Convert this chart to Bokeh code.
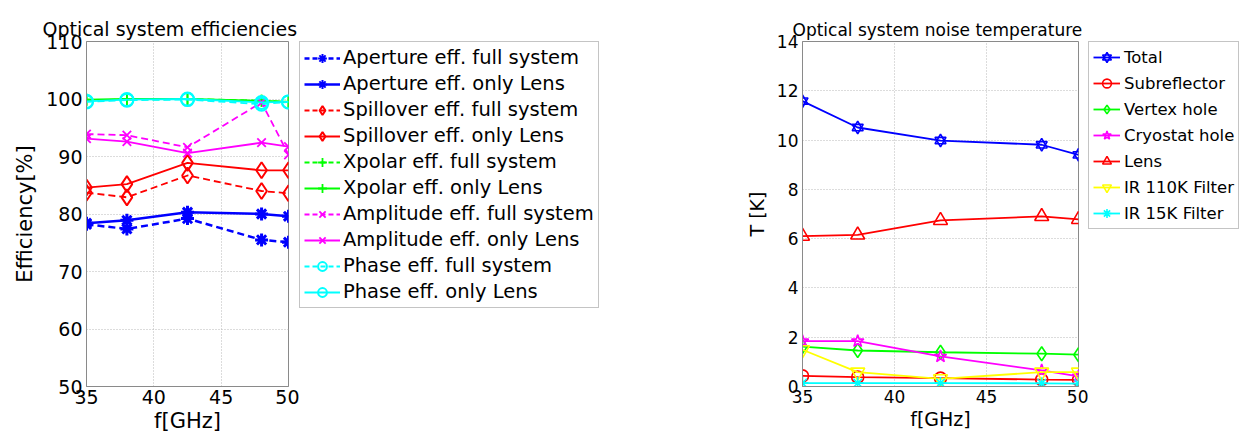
from bokeh.plotting import figure
from bokeh.layouts import row
from bokeh.models import Legend, LegendItem, Range1d, FixedTicker
from bokeh.embed import file_html
from bokeh.resources import INLINE

# ---------------- data ----------------
freq = [35, 38, 42.5, 48, 50]

aperture_full = [78.2, 77.4, 79.2, 75.5, 75.1]
aperture_lens = [78.4, 78.9, 80.3, 80.0, 79.6]
spill_full = [83.7, 82.9, 86.7, 84.0, 83.6]
spill_lens = [84.6, 85.2, 88.9, 87.6, 87.6]
xpol_full = [99.8, 99.9, 100.0, 99.7, 99.5]
xpol_lens = [99.9, 100.0, 100.0, 99.7, 99.5]
ampl_full = [93.9, 93.7, 91.6, 99.4, 90.3]
ampl_lens = [93.1, 92.6, 90.6, 92.4, 91.7]
phase_full = [99.5, 99.8, 99.9, 99.1, 99.5]
phase_lens = [99.6, 99.9, 100.0, 99.4, 99.5]

t_total = [11.58, 10.51, 9.98, 9.81, 9.40]
t_subrefl = [0.43, 0.38, 0.34, 0.28, 0.27]
t_vertex = [1.62, 1.46, 1.39, 1.33, 1.29]
t_cryo = [1.84, 1.84, 1.22, 0.65, 0.41]
t_lens = [6.10, 6.15, 6.74, 6.90, 6.78]
t_ir110 = [1.49, 0.58, 0.31, 0.58, 0.58]
t_ir15 = [0.14, 0.14, 0.14, 0.13, 0.12]

eff_ticks = [50, 60, 70, 80, 90, 100, 110]
temp_ticks = [0, 2, 4, 6, 8, 10, 12, 14]
f_ticks = [35, 40, 45, 50]

BLUE, RED, GREEN, MAG, CYAN, YEL = "#0000ff", "#ff0000", "#00ff00", "#ff00ff", "#00ffff", "#ffff00"
FONT = "DejaVu Sans"
FRAME = "#8a8a8a"
H = 440


def style(p, yt, tick_size, label_size, title_size, title_offset):
    p.title.text_font = FONT
    p.title.text_font_size = title_size
    p.title.text_font_style = "normal"
    p.title.text_color = "black"
    p.title.align = "left"
    p.title.offset = title_offset
    p.title.standoff = 4
    p.outline_line_color = FRAME
    p.outline_line_width = 1
    p.xaxis.ticker = FixedTicker(ticks=f_ticks)
    p.yaxis.ticker = FixedTicker(ticks=yt)
    for ax in (p.xaxis[0], p.yaxis[0]):
        ax.axis_line_color = FRAME
        ax.major_tick_in = 0
        ax.major_tick_out = 0
        ax.minor_tick_in = 0
        ax.minor_tick_out = 0
        ax.major_label_text_font = FONT
        ax.major_label_text_font_size = tick_size
        ax.major_label_text_color = "black"
        ax.axis_label_text_font = FONT
        ax.axis_label_text_font_size = label_size
        ax.axis_label_text_font_style = "normal"
        ax.axis_label_text_color = "black"
    p.xaxis.major_label_standoff = 3
    p.yaxis.major_label_standoff = 4
    p.xaxis.axis_label_standoff = 2
    p.yaxis.axis_label_standoff = 6
    for g in (p.xgrid[0], p.ygrid[0]):
        g.grid_line_color = "#b8b8b8"
        g.grid_line_dash = "1 2"
        g.grid_line_width = 1


def legend_fig(width):
    # a bare panel that only carries the legend box (its key glyphs lie outside its ranges)
    f = figure(width=width, height=H, output_backend="svg", toolbar_location=None,
               x_axis_type=None, y_axis_type=None,
               x_range=Range1d(0, 1), y_range=Range1d(0, 1),
               min_border_left=0, min_border_right=0, min_border_top=41, min_border_bottom=0)
    f.outline_line_color = None
    f.xgrid.visible = False
    f.ygrid.visible = False
    return f


# ---------------- left figure ----------------
p1 = figure(width=299, height=H, output_backend="svg", toolbar_location=None,
            title="Optical system efficiencies",
            x_range=Range1d(35, 50), y_range=Range1d(50, 110),
            x_axis_label="f[GHz]", y_axis_label="Efficiency[%]",
            min_border_left=86, min_border_right=11, min_border_top=41, min_border_bottom=H - 386)
style(p1, eff_ticks, "19px", "21px", "19px", -44)
L1 = legend_fig(401)

series1 = [
    ("Aperture eff. full system", aperture_full, BLUE, "dashed", "asterisk", 2.5, 13, 3.0),
    ("Aperture eff. only Lens", aperture_lens, BLUE, "solid", "asterisk", 2.5, 13, 3.0),
    ("Spillover eff. full system", spill_full, RED, "dashed", "diamond", 1.8, 16, 2.0),
    ("Spillover eff. only Lens", spill_lens, RED, "solid", "diamond", 1.8, 16, 2.0),
    ("Xpolar eff. full system", xpol_full, GREEN, "dashed", "cross", 1.8, 12, 1.8),
    ("Xpolar eff. only Lens", xpol_lens, GREEN, "solid", "cross", 1.8, 12, 1.8),
    ("Amplitude eff. full system", ampl_full, MAG, "dashed", "x", 1.8, 12, 1.8),
    ("Amplitude eff. only Lens", ampl_lens, MAG, "solid", "x", 1.8, 12, 1.8),
    ("Phase eff. full system", phase_full, CYAN, "dashed", "circle", 1.8, 13, 2.0),
    ("Phase eff. only Lens", phase_lens, CYAN, "solid", "circle", 1.8, 13, 2.0),
]
items1 = []
for label, ys, col, dash, mk, lw, ms, mlw in series1:
    d = "7 4" if dash == "dashed" else "solid"
    p1.line(freq, ys, line_color=col, line_width=lw, line_dash=d)
    p1.scatter(freq, ys, marker=mk, size=ms, line_color=col, fill_color=None, line_width=mlw)
    l = L1.line(freq, ys, line_color=col, line_width=lw, line_dash="5 3" if dash == "dashed" else "solid")
    s = L1.scatter(freq, ys, marker=mk, size=ms, line_color=col, fill_color=None,
                   line_width=2.0 if mk == "asterisk" else mlw)
    items1.append(LegendItem(label=label, renderers=[l, s]))

leg1 = Legend(items=items1, location="top_left", margin=0, padding=4, spacing=3,
              glyph_width=36, glyph_height=22, label_height=22, label_standoff=3,
              label_text_font=FONT, label_text_font_size="19.5px", label_text_color="black",
              border_line_color=FRAME, border_line_width=1, background_fill_alpha=1)
L1.add_layout(leg1, "center")

# ---------------- right figure ----------------
p2 = figure(width=388, height=H, output_backend="svg", toolbar_location=None,
            title="Optical system noise temperature",
            x_range=Range1d(35, 50), y_range=Range1d(0, 14),
            x_axis_label="f[GHz]", y_axis_label="T [K]",
            min_border_left=102, min_border_right=10, min_border_top=41, min_border_bottom=H - 386)
style(p2, temp_ticks, "17px", "19px", "17px", -10)
L2 = legend_fig(158)

series2 = [
    ("Total", t_total, BLUE, ["triangle", "inverted_triangle"], 11),
    ("Subreflector", t_subrefl, RED, ["circle"], 12),
    ("Vertex hole", t_vertex, GREEN, ["diamond"], 14),
    ("Cryostat hole", t_cryo, MAG, ["star"], 13),
    ("Lens", t_lens, RED, ["triangle"], 14),
    ("IR 110K Filter", t_ir110, YEL, ["inverted_triangle"], 14),
    ("IR 15K Filter", t_ir15, CYAN, ["asterisk"], 12),
]
items2 = []
for label, ys, col, mks, ms in series2:
    p2.line(freq, ys, line_color=col, line_width=1.8)
    rs = [L2.line(freq, ys, line_color=col, line_width=1.8)]
    for mk in mks:
        p2.scatter(freq, ys, marker=mk, size=ms, line_color=col, fill_color=None, line_width=1.6)
        rs.append(L2.scatter(freq, ys, marker=mk, size=ms - 2, line_color=col, fill_color=None, line_width=1.6))
    items2.append(LegendItem(label=label, renderers=rs))

leg2 = Legend(items=items2, location="top_left", margin=0, padding=4, spacing=4,
              glyph_width=27, glyph_height=22, label_height=22, label_standoff=4,
              label_text_font=FONT, label_text_font_size="16.5px", label_text_color="black",
              border_line_color=FRAME, border_line_width=1, background_fill_alpha=1)
L2.add_layout(leg2, "center")

layout = row(p1, L1, p2, L2, spacing=0)
open("out.html", "w").write(file_html(layout, INLINE))
